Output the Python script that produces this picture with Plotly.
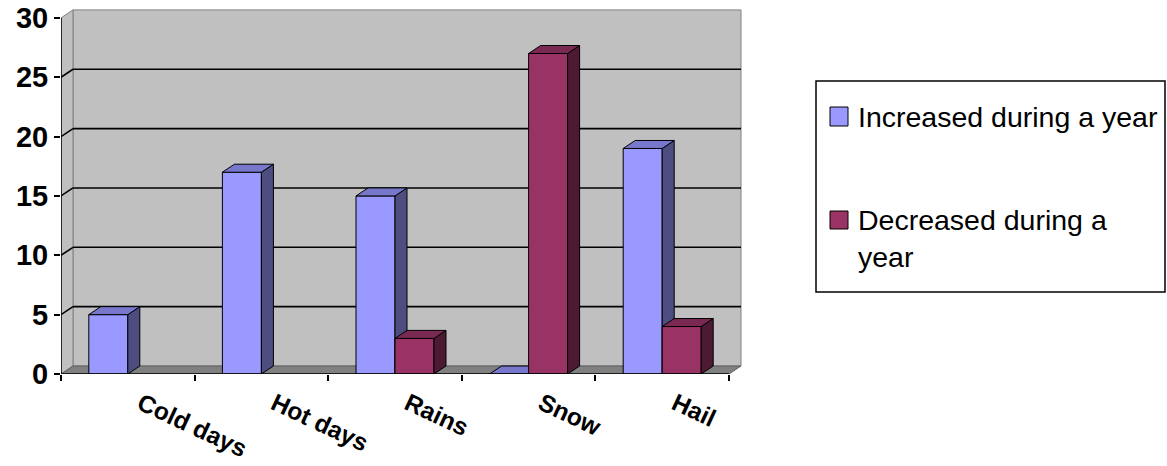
import plotly.graph_objects as go

# ---- data ----
categories = ["Cold days", "Hot days", "Rains", "Snow", "Hail"]
increased = [5, 17, 15, 0, 19]
decreased = [None, None, 3, 27, 4]
series_names = ["Increased during a year", "Decreased during a<br>year"]
y_ticks = [0, 5, 10, 15, 20, 25, 30]

# ---- geometry / style ----
W, H = 1167, 466
ML, MT = 61, 8
PLOT_W = 684
PLOT_H = 366
XMIN, XMAX = -0.5, -0.5 + PLOT_W / 133.6
YMIN, YMAX = 0, PLOT_H / 11.87
DX = 12 / 133.6      # depth offset in x units
DY = 8 / 11.87       # depth offset in y units
BW = 39 / 133.6      # bar width
FONT = "Liberation Sans, Arial, sans-serif"

inc_cols = dict(front="#9999FF", top="#7777CC", side="#4D4D80")
dec_cols = dict(front="#993366", top="#7A2952", side="#4D1A33")

fig = go.Figure()


def add_series(vals, offset, cols, name, xa, ya):
    xs = list(range(len(vals)))
    fig.add_trace(go.Bar(
        x=xs, y=vals, width=BW, offset=offset, name=name,
        marker=dict(color=cols["front"], line=dict(color="black", width=1)),
        xaxis=xa, yaxis=ya, showlegend=False, hoverinfo="skip"))
    sx, sy, tx, ty = [], [], [], []
    for i, v in enumerate(vals):
        if v is None:
            continue
        xl = i + offset
        xr = xl + BW
        sx += [xr, xr, xr + DX, xr + DX, xr, None]
        sy += [0, v, v + DY, DY, 0, None]
        tx += [xl, xr, xr + DX, xl + DX, xl, None]
        ty += [v, v, v + DY, v + DY, v, None]
    fig.add_trace(go.Scatter(x=sx, y=sy, mode="lines", fill="toself",
                             fillcolor=cols["side"], line=dict(color="black", width=1),
                             xaxis=xa, yaxis=ya, showlegend=False, hoverinfo="skip"))
    fig.add_trace(go.Scatter(x=tx, y=ty, mode="lines", fill="toself",
                             fillcolor=cols["top"], line=dict(color="black", width=1),
                             xaxis=xa, yaxis=ya, showlegend=False, hoverinfo="skip"))


add_series(increased, -BW, inc_cols, series_names[0], "x", "y")
add_series(decreased, 0, dec_cols, series_names[1], "x2", "y2")

shapes = []
x0, x1 = -0.5, len(categories) - 0.5
top = y_ticks[-1]
# back wall
shapes.append(dict(type="rect", xref="x", yref="y", x0=x0 + DX, x1=x1 + DX, y0=DY, y1=top + DY,
                   fillcolor="#C0C0C0", line=dict(color="#808080", width=1), layer="below"))
# side wall
shapes.append(dict(type="path", xref="x", yref="y",
                   path=f"M{x0},0 L{x0+DX},{DY} L{x0+DX},{top+DY} L{x0},{top} Z",
                   fillcolor="#C0C0C0", line=dict(color="#808080", width=1), layer="below"))
# floor
shapes.append(dict(type="path", xref="x", yref="y",
                   path=f"M{x0},0 L{x1},0 L{x1+DX},{DY} L{x0+DX},{DY} Z",
                   fillcolor="#808080", line=dict(color="#606060", width=1), layer="below"))
# gridlines
for v in y_ticks[1:-1]:
    shapes.append(dict(type="line", xref="x", yref="y", x0=x0 + DX, x1=x1 + DX, y0=v + DY, y1=v + DY,
                       line=dict(color="black", width=1.6), layer="below"))
    shapes.append(dict(type="line", xref="x", yref="y", x0=x0, x1=x0 + DX, y0=v, y1=v + DY,
                       line=dict(color="black", width=1.6), layer="below"))
# front axes
shapes.append(dict(type="line", xref="x", yref="y", x0=x0, x1=x0, y0=0, y1=top,
                   line=dict(color="black", width=1.5)))
shapes.append(dict(type="line", xref="x", yref="y", x0=x0, x1=x1, y0=0, y1=0,
                   line=dict(color="black", width=1.5)))


# legend (manual, pixel positions converted to paper coords)
def px(xp):
    return (xp - ML) / PLOT_W


def py(yp):
    return (MT + PLOT_H - yp) / PLOT_H


shapes.append(dict(type="rect", xref="paper", yref="paper", x0=px(816), x1=px(1165), y0=py(81), y1=py(292),
                   fillcolor="white", line=dict(color="black", width=1.5)))
shapes.append(dict(type="rect", xref="paper", yref="paper", x0=px(830), x1=px(848), y0=py(107), y1=py(126),
                   fillcolor=inc_cols["front"], line=dict(color="black", width=1)))
shapes.append(dict(type="rect", xref="paper", yref="paper", x0=px(830), x1=px(848), y0=py(211), y1=py(229),
                   fillcolor=dec_cols["front"], line=dict(color="black", width=1)))

annotations = [
    dict(xref="paper", yref="paper", x=px(856), y=py(117), xanchor="left", yanchor="middle",
         text=series_names[0], showarrow=False, font=dict(family=FONT, size=28.5, color="black")),
    dict(xref="paper", yref="paper", x=px(856), y=py(202), xanchor="left", yanchor="top", align="left",
         text=series_names[1], showarrow=False, font=dict(family=FONT, size=28.5, color="black")),
]

fig.update_layout(
    width=W, height=H,
    margin=dict(l=ML, r=W - ML - PLOT_W, t=MT, b=H - MT - PLOT_H, pad=0, autoexpand=False),
    paper_bgcolor="white", plot_bgcolor="white",
    showlegend=False,
    shapes=shapes, annotations=annotations,
    xaxis=dict(range=[XMIN, XMAX], showgrid=False, zeroline=False, showline=False, automargin=False,
               tickmode="array", tickvals=list(range(len(categories))), ticktext=categories,
               ticks="", tickangle=25, ticklabelshift=13, ticklabelstandoff=10,
               tickfont=dict(family=FONT, size=24.5, color="black", weight="bold"),
               minor=dict(tickmode="array", tickvals=[i - 0.5 for i in range(len(categories) + 1)],
                          ticks="outside", ticklen=6, tickcolor="black", tickwidth=1.5)),
    yaxis=dict(range=[YMIN, YMAX], showgrid=False, zeroline=False, showline=False, automargin=False,
               tickmode="array", tickvals=y_ticks, ticks="outside", ticklen=6,
               tickcolor="black", tickwidth=1.5,
               tickfont=dict(family=FONT, size=29, color="black", weight="bold")),
    xaxis2=dict(range=[XMIN, XMAX], overlaying="x", anchor="y2", visible=False),
    yaxis2=dict(range=[YMIN, YMAX], overlaying="y", anchor="x2", visible=False),
)

fig.write_html("out.html", config={"displayModeBar": False},
               post_script="document.body.style.margin='0';")
